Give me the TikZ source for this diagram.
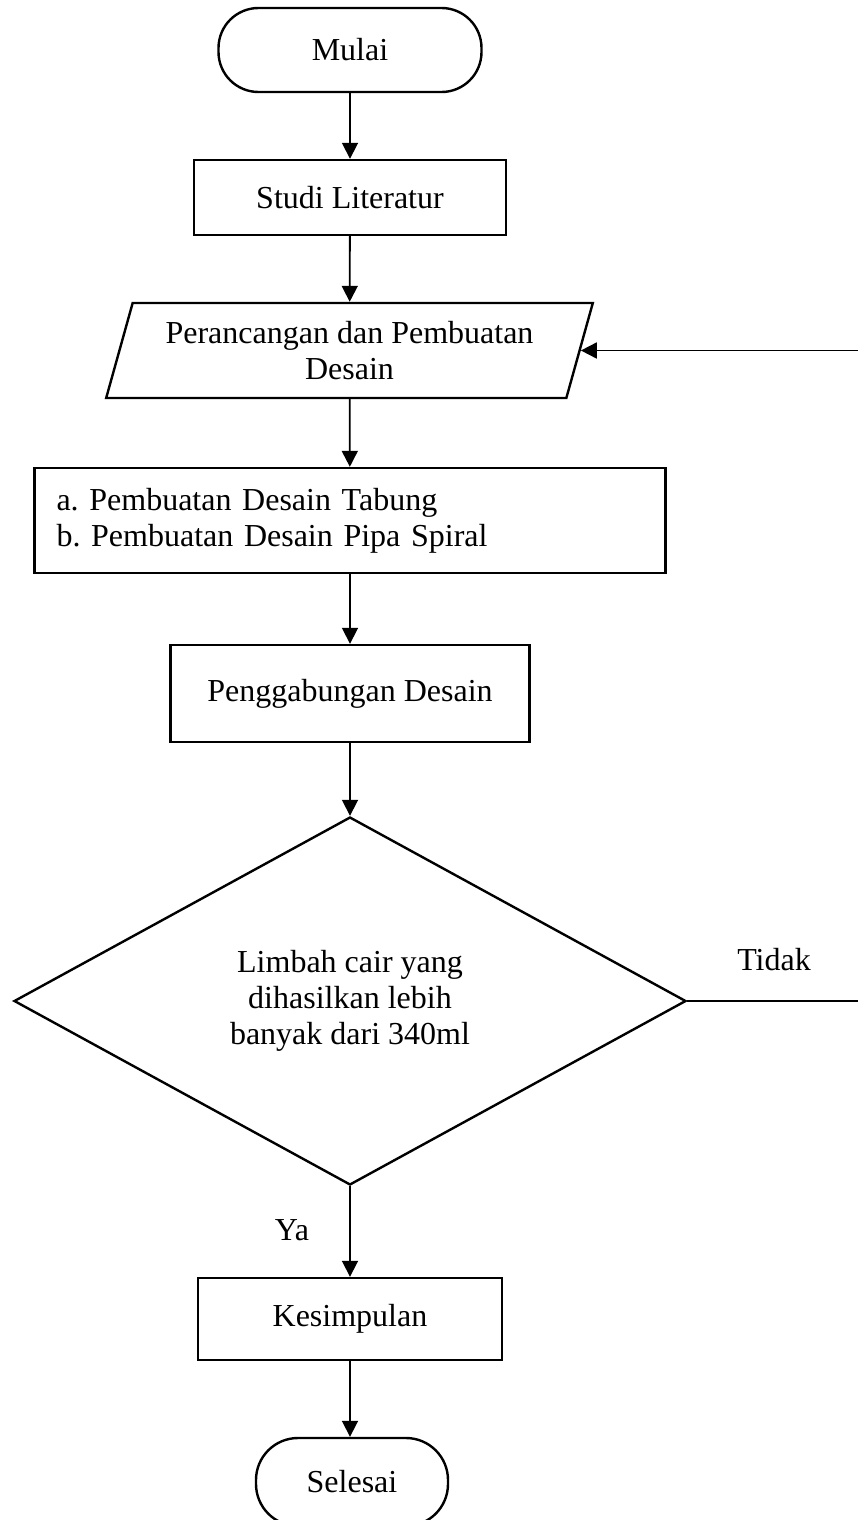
\documentclass[tikz,border=0pt]{standalone}
\usepackage{fontspec}
\setmainfont{Liberation Serif}
\usetikzlibrary{shapes.geometric,arrows.meta}
\frenchspacing
\begin{document}
\begin{tikzpicture}[x=1pt,y=-1pt,
  every node/.style={font=\fontsize{32}{36}\selectfont},
  box/.style={draw,line width=2.4pt,rectangle,inner sep=0pt,align=center},
  term/.style={draw,line width=2.4pt,rectangle,rounded corners=40pt,inner sep=0pt,align=center},
  para/.style={draw,line width=2.4pt,trapezium,trapezium left angle=69,trapezium right angle=111,
    trapezium stretches=true,minimum width=489pt,minimum height=95pt,inner sep=0pt,align=center},
  decision/.style={draw,line width=2.4pt,diamond,minimum width=672pt,minimum height=368pt,inner sep=0pt,align=center},
  lbl/.style={inner sep=0pt},
  arr/.style={line width=1.8pt,-{Triangle[length=16pt,width=16pt]}}]
\path[use as bounding box] (0,0) rectangle (858,1520);
\clip (0,0) rectangle (858,1520);
\fill[white] (0,0) rectangle (858,1520);

\node[term,minimum width=263pt,minimum height=84pt] (mulai) at (350,50) {Mulai};
\node[box,minimum width=312pt,minimum height=75pt] (studi) at (350,197.5) {Studi Literatur};
\node[para] (para) at (349.5,350.5) {Perancangan dan Pembuatan\\Desain};
\node[box,minimum width=631pt,minimum height=105pt,text width=587pt,align=left] (ab) at (350,520.5)
  {a. Pembuatan Desain Tabung\\b. Pembuatan Desain Pipa Spiral};
\node[box,minimum width=359pt,minimum height=97pt] (peng) at (350,693.5) {Penggabungan Desain};
\node[decision] (dec) at (350,1001) {Limbah cair yang\\dihasilkan lebih\\banyak dari 340ml};
\node[box,minimum width=304pt,minimum height=82pt] (kes) at (350,1319) {Kesimpulan};
\node[term,minimum width=192pt,minimum height=88pt,rounded corners=42pt] (sel) at (352,1482) {Selesai};
\node[lbl] (tidak) at (774,960) {Tidak};
\node[lbl] (ya) at (292,1230) {Ya};
\coordinate (fb) at (866,700);

\draw[arr] (mulai) -- (studi);
\draw[arr] (studi) -- (para);
\draw[arr] (para) -- (ab);
\draw[arr] (ab) -- (peng);
\draw[arr] (peng) -- (dec);
\draw[arr] (dec) -- (kes);
\draw[arr] (kes.south) -- (kes.south |- sel.north);
\draw[arr] (dec.east) -| (fb) |- (para.east);
\end{tikzpicture}
\end{document}
